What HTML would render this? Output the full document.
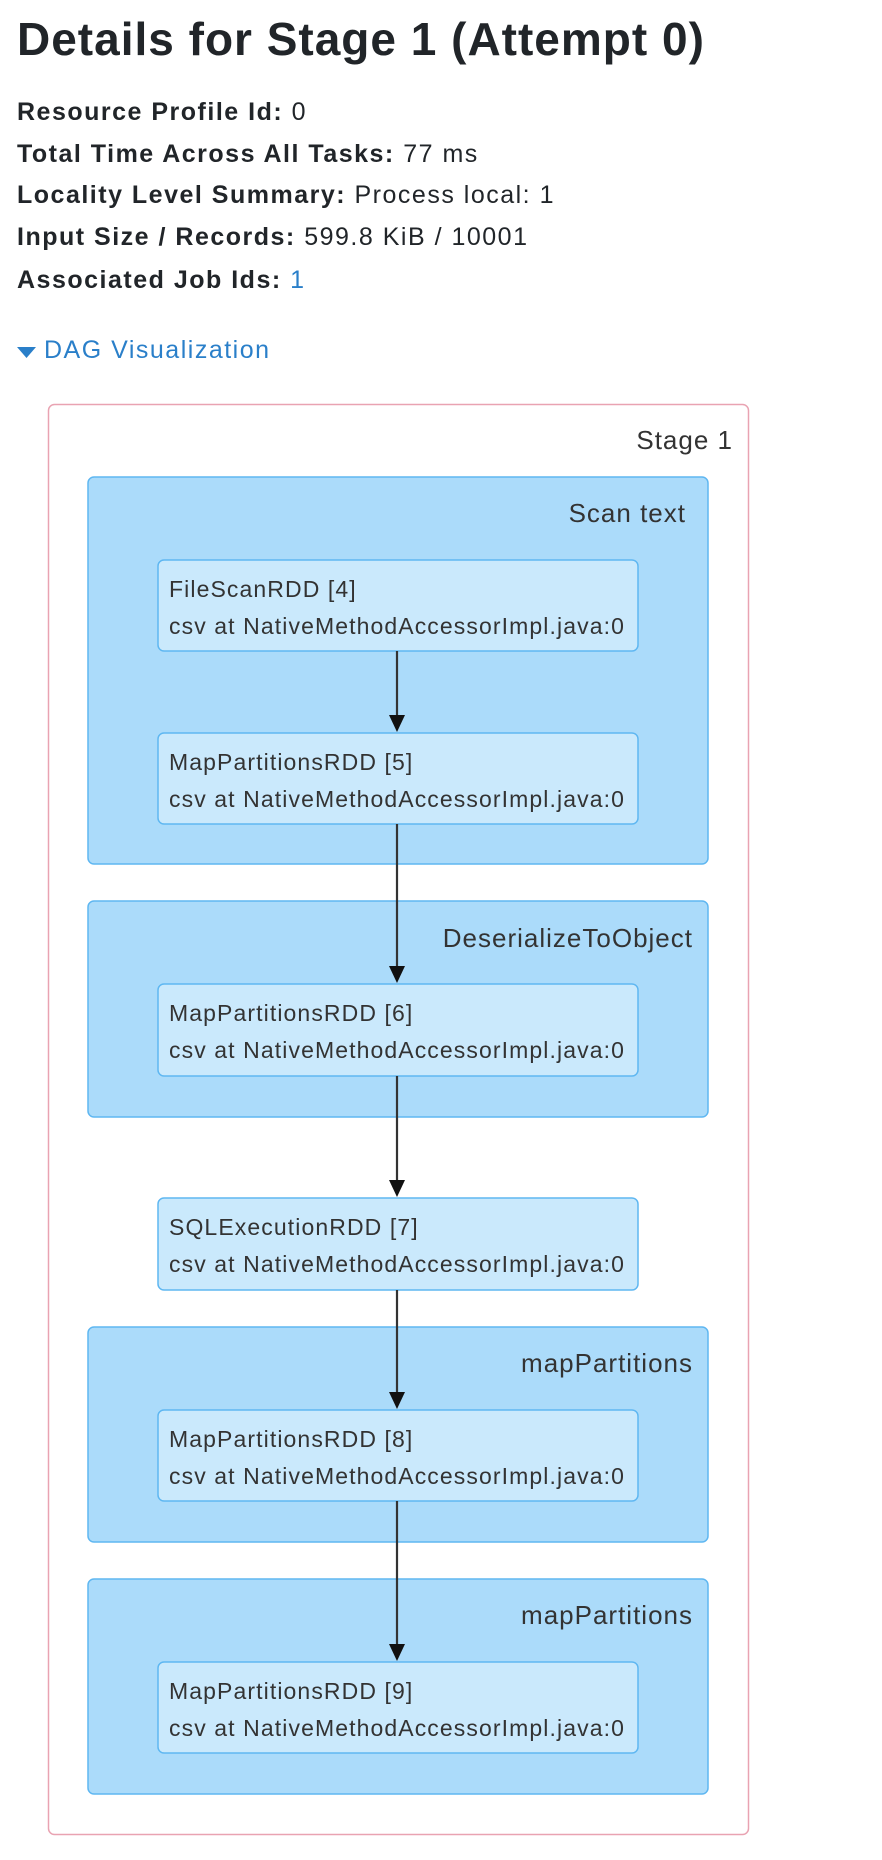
<!DOCTYPE html>
<html><head><meta charset="utf-8"><style>
body{margin:0;background:#fff;font-family:"Liberation Sans",sans-serif;color:#212529;width:882px;height:1860px;overflow:hidden;position:relative}
h1{position:absolute;left:17px;top:12px;margin:0;font-size:46px;font-weight:bold;letter-spacing:1px}
.l{position:absolute;left:17px;font-size:25px;letter-spacing:1.5px;white-space:nowrap}
.l b{font-weight:bold}
a{color:#2a7fc9;text-decoration:none}
svg{position:absolute;left:0;top:0}
</style></head><body>
<h1>Details for Stage 1 (Attempt 0)</h1>
<div class="l" style="top:98px"><b>Resource Profile Id:</b> 0</div>
<div class="l" style="top:140px"><b>Total Time Across All Tasks:</b> 77 ms</div>
<div class="l" style="top:181px"><b>Locality Level Summary:</b> Process local: 1</div>
<div class="l" style="top:223px"><b>Input Size / Records:</b> 599.8 KiB / 10001</div>
<div class="l" style="top:266px"><b>Associated Job Ids:</b> <a>1</a></div>
<div class="l" style="top:336px;left:44px;color:#2a7fc9">DAG Visualization</div>
<svg width="882" height="1860" font-family="Liberation Sans, sans-serif">
<path d="M17,347 L36,347 L26.5,358 z" fill="#2a7fc9"/>
<rect x="48.5" y="404.5" width="700" height="1430" rx="6" fill="#fff" stroke="#e9a3b2" stroke-width="1.5"/>
<text x="733" y="449" font-size="26" letter-spacing="1" text-anchor="end" fill="#333">Stage 1</text>
<g fill="#abdbfa" stroke="#5fb7f1" stroke-width="1.5">
<rect x="88" y="477" width="620" height="387" rx="6"/>
<rect x="88" y="901" width="620" height="216" rx="6"/>
<rect x="88" y="1327" width="620" height="215" rx="6"/>
<rect x="88" y="1579" width="620" height="215" rx="6"/>
</g>
<g font-size="26" letter-spacing="1" text-anchor="end" fill="#333">
<text x="686" y="522">Scan text</text>
<text x="693" y="947">DeserializeToObject</text>
<text x="693" y="1372">mapPartitions</text>
<text x="693" y="1624">mapPartitions</text>
</g>
<g fill="#cae9fc" stroke="#5fb7f1" stroke-width="1.5">
<rect x="158" y="560" width="480" height="91" rx="6"/>
<rect x="158" y="733" width="480" height="91" rx="6"/>
<rect x="158" y="984" width="480" height="92" rx="6"/>
<rect x="158" y="1198" width="480" height="92" rx="6"/>
<rect x="158" y="1410" width="480" height="91" rx="6"/>
<rect x="158" y="1662" width="480" height="91" rx="6"/>
</g>
<g font-size="23" letter-spacing="1.1" fill="#333">
<text x="169" y="597">FileScanRDD [4]</text><text x="169" y="634">csv at NativeMethodAccessorImpl.java:0</text>
<text x="169" y="770">MapPartitionsRDD [5]</text><text x="169" y="807">csv at NativeMethodAccessorImpl.java:0</text>
<text x="169" y="1021">MapPartitionsRDD [6]</text><text x="169" y="1058">csv at NativeMethodAccessorImpl.java:0</text>
<text x="169" y="1235">SQLExecutionRDD [7]</text><text x="169" y="1272">csv at NativeMethodAccessorImpl.java:0</text>
<text x="169" y="1447">MapPartitionsRDD [8]</text><text x="169" y="1484">csv at NativeMethodAccessorImpl.java:0</text>
<text x="169" y="1699">MapPartitionsRDD [9]</text><text x="169" y="1736">csv at NativeMethodAccessorImpl.java:0</text>
</g>
<g stroke="#333" stroke-width="2.2" fill="#111">
<line x1="397" y1="651" x2="397" y2="716"/><path d="M389,715 L405,715 L397,732 z" stroke="none"/>
<line x1="397" y1="824" x2="397" y2="967"/><path d="M389,966 L405,966 L397,983 z" stroke="none"/>
<line x1="397" y1="1076" x2="397" y2="1181"/><path d="M389,1180 L405,1180 L397,1197 z" stroke="none"/>
<line x1="397" y1="1290" x2="397" y2="1393"/><path d="M389,1392 L405,1392 L397,1409 z" stroke="none"/>
<line x1="397" y1="1501" x2="397" y2="1645"/><path d="M389,1644 L405,1644 L397,1661 z" stroke="none"/>
</g>
</svg>
</body></html>
